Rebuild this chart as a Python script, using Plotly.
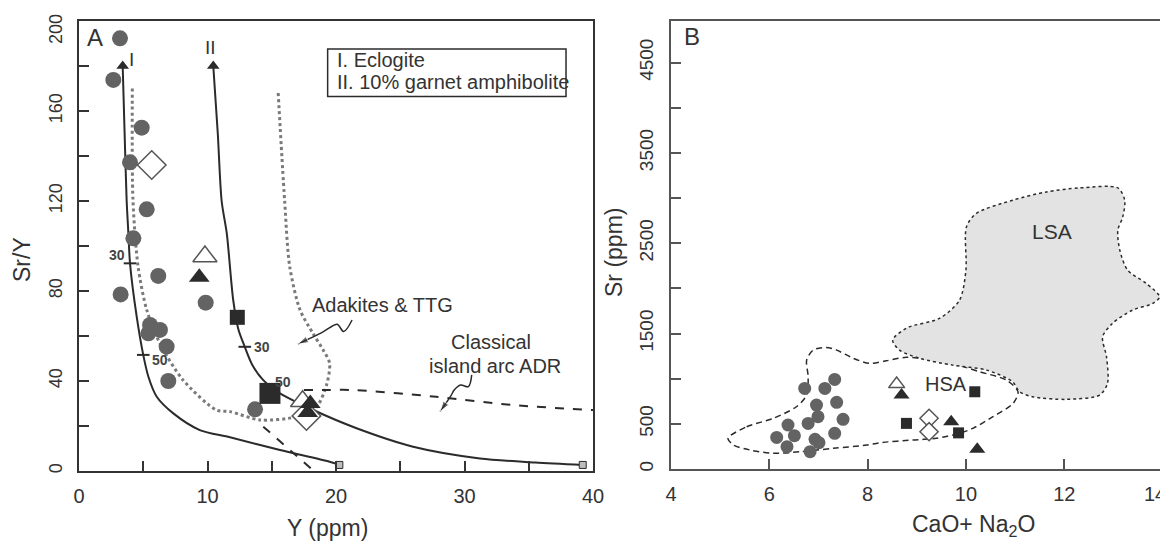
import plotly.graph_objects as go

# ---------------- Panel A data ----------------
curve1_x = [3.4, 3.55, 3.71, 3.85, 3.97, 4.49, 5.0, 5.4, 6.05, 7.34, 9.4, 11.75, 15.64, 19.5, 20.26]
curve1_y = [180, 150, 120, 105, 92.3, 68.6, 51.6, 41.9, 33, 25.6, 18.2, 15, 9.3, 4.1, 2.7]
curve2_x = [10.45, 10.8, 11.1, 11.5, 12.0, 12.4, 12.9, 13.5, 14.34, 15.64, 18.23, 21.6, 26.0, 31.2, 35.5, 39.2]
curve2_y = [180, 150, 120, 105.6, 76, 63, 55.2, 47, 40.4, 34.5, 27.1, 19, 10.8, 5.6, 3.8, 2.7]
adakite_x = [4.15, 4.2, 4.6, 5.27, 6.3, 8.1, 10.7, 11.75, 14.1, 16.9, 18.5, 19.3, 19.5, 19.0, 18.2, 17.2, 16.4, 16.0, 15.5]
adakite_y = [170, 120.4, 90.8, 71.6, 56.7, 40.4, 27.1, 26.4, 22.7, 24.1, 28.6, 39, 48, 53.8, 61.2, 71.6, 90.8, 120.4, 168]
adr_upper_x = [17.5, 19.3, 21.3, 27.8, 33.8, 40]
adr_upper_y = [36, 36, 36, 33, 29.3, 27.1]
adr_lower_x = [14.34, 18.2]
adr_lower_y = [19.7, 0.4]

circles_a_x = [3.19, 2.67, 4.88, 3.97, 5.27, 4.23, 6.17, 3.24, 9.86, 5.53, 5.4, 6.3, 6.82, 6.95, 13.7]
circles_a_y = [192.3, 173.8, 152.6, 137.2, 116.3, 103.4, 86.7, 78.5, 74.8, 64.9, 61.2, 62.7, 55.3, 40, 27.4]
open_diamond_a_x = [5.66, 17.7]
open_diamond_a_y = [136, 24.5]
open_tri_a_x = [9.8, 17.4]
open_tri_a_y = [95.3, 31]
filled_tri_a_x = [9.36, 18.0, 17.8]
filled_tri_a_y = [86.1, 30, 26]
square_small_a_x = [12.32]
square_small_a_y = [68.3]
square_big_a_x = [14.86]
square_big_a_y = [34.5]

melt_ticks_x = [3.97, 5.0, 12.9]
melt_ticks_y = [92.3, 51.6, 55.2]
melt_labels = ["30", "50", "30", "50"]
melt_label_x = [2.96, 6.3, 14.24, 15.9]
melt_label_y = [96, 49.3, 55.1, 39.6]

squiggle1_x = [21.25, 20.6, 20.1, 19.6, 18.99, 17.04]
squiggle1_y = [67.1, 62.0, 65.2, 64.0, 61.8, 56.4]
squiggle2_x = [30.56, 30.3, 29.7, 29.2, 28.95, 28.1]
squiggle2_y = [42.7, 37.5, 38.2, 36.0, 33.5, 26.4]

# ---------------- Panel B data ----------------
circles_b_x = [6.72, 7.13, 7.33, 6.96, 7.37, 6.99, 6.79, 7.5, 6.38, 6.51, 6.15, 6.36, 6.93, 7.01, 7.33, 6.83]
circles_b_y = [892, 892, 992, 708, 738, 579, 505, 550, 487, 369, 350, 247, 328, 291, 395, 192]
open_tri_b_x = [8.59]
open_tri_b_y = [940]
filled_tri_b_x = [8.69, 9.7, 10.23]
filled_tri_b_y = [819, 523, 218]
square_b_x = [10.18, 8.79, 9.85]
square_b_y = [855, 505, 400]
open_diamond_b_x = [9.25, 9.25]
open_diamond_b_y = [561, 413]

lsa_x = [10.01, 10.21, 10.95, 11.64, 12.31, 13.09, 13.23, 13.19, 13.09, 13.13, 13.29, 13.67, 13.94, 13.80,
         13.39, 12.98, 12.78, 12.86, 12.88, 12.72, 12.04, 11.36, 11.09, 10.95, 10.42, 9.73, 9.06, 8.65,
         8.51, 8.79, 9.47, 9.87, 10.0, 10.01]
lsa_y = [2680, 2829, 2976, 3068, 3112, 3112, 2976, 2791, 2644, 2423, 2201, 2054, 1906, 1833,
         1759, 1612, 1463, 1242, 948, 819, 771, 800, 855, 966, 1095, 1150, 1225, 1316,
         1427, 1560, 1670, 1869, 2201, 2680]
hsa_x = [5.16, 5.54, 6.08, 6.55, 6.76, 6.79, 6.76, 6.89, 7.16, 7.37, 7.71, 8.04, 8.38, 8.79, 9.60,
         10.28, 10.82, 11.06, 10.96, 10.55, 10.14, 9.87, 9.40, 8.92, 8.25, 7.98, 7.30, 6.62, 6.08,
         5.61, 5.27, 5.16]
hsa_y = [340, 468, 561, 689, 819, 1021, 1206, 1316, 1346, 1316, 1225, 1169, 1198, 1236, 1187,
         1076, 985, 855, 727, 579, 450, 395, 340, 321, 291, 265, 229, 191, 174,
         210, 265, 340]

# ---------------- axis ticks ----------------
ya_major = [0, 40, 80, 120, 160]
ya_minor = [20, 60, 100, 140, 180]
ya_top_label = "200"
xa_major = [0, 10, 20, 30, 40]
xa_minor = [5, 15, 25, 35]
yb_major = [0, 500, 1500, 2500, 3500, 4500]
yb_minor = [1000, 2000, 3000, 4000]
xb_major = [4, 6, 8, 10, 12]
xb_edge = [14]
xb_edge_label = "14"

FONT = "Liberation Sans, Arial, sans-serif"
DARK = "#2b2b2b"
GRAY = "#636363"

fig = go.Figure()

def line(x, y, xa, ya, color=DARK, width=2, dash="solid", shape="spline"):
    fig.add_trace(go.Scatter(x=x, y=y, xaxis=xa, yaxis=ya, mode="lines",
                             line=dict(color=color, width=width, dash=dash, shape=shape, smoothing=0.8),
                             showlegend=False, hoverinfo="skip"))

def arrow_line(x, y, width=1.5, head=11):
    n = len(x)
    fig.add_trace(go.Scatter(x=x, y=y, xaxis="x", yaxis="y", mode="lines+markers",
                             line=dict(color=DARK, width=width, shape="spline", smoothing=1.0),
                             marker=dict(symbol=["circle"] * (n - 1) + ["arrow"],
                                         size=[0] * (n - 1) + [head], color=DARK,
                                         angleref="previous"),
                             showlegend=False, hoverinfo="skip"))

def pts(x, y, xa, ya, symbol, size, fill, lcolor, lwidth=0):
    fig.add_trace(go.Scatter(x=x, y=y, xaxis=xa, yaxis=ya, mode="markers",
                             marker=dict(symbol=symbol, size=size, color=fill,
                                         line=dict(color=lcolor, width=lwidth)),
                             showlegend=False))

# Panel A lines
line(adakite_x, adakite_y, "x", "y", color="#7a7a7a", width=3, dash="dot")
line(curve1_x, curve1_y, "x", "y")
line(curve2_x, curve2_y, "x", "y")
line(adr_upper_x, adr_upper_y, "x", "y", width=2, dash="dash")
line(adr_lower_x, adr_lower_y, "x", "y", width=2, dash="dash", shape="linear")
arrow_line(squiggle1_x, squiggle1_y)
arrow_line(squiggle2_x, squiggle2_y)
pts([curve1_x[0], curve2_x[0]], [curve1_y[0], curve2_y[0]], "x", "y", "triangle-up", 11, DARK, DARK)
pts([curve1_x[-1], curve2_x[-1]], [curve1_y[-1], curve2_y[-1]], "x", "y", "square", 7, "#bdbdbd", DARK, 1)
pts(melt_ticks_x, melt_ticks_y, "x", "y", "line-ew", 9, DARK, DARK, 2)

# Panel A points
pts(circles_a_x, circles_a_y, "x", "y", "circle", 16, GRAY, GRAY)
pts(open_tri_a_x, open_tri_a_y, "x", "y", "triangle-up", 21, "white", "#555", 1.5)
pts(open_diamond_a_x, open_diamond_a_y, "x", "y", "diamond", 22, "white", "#555", 1.5)
pts(filled_tri_a_x, filled_tri_a_y, "x", "y", "triangle-up", 18, DARK, DARK)
pts(square_small_a_x, square_small_a_y, "x", "y", "square", 15, DARK, DARK)
pts(square_big_a_x, square_big_a_y, "x", "y", "square", 21, DARK, DARK)

# Panel B fields
fig.add_trace(go.Scatter(x=hsa_x, y=hsa_y, xaxis="x2", yaxis="y2", mode="lines",
                         line=dict(color=DARK, width=1.5, dash="6px,4px", shape="spline", smoothing=0.8),
                         showlegend=False, hoverinfo="skip"))
fig.add_trace(go.Scatter(x=lsa_x, y=lsa_y, xaxis="x2", yaxis="y2", mode="lines", fill="toself",
                         fillcolor="#e3e3e3",
                         line=dict(color=DARK, width=1.5, dash="dot", shape="spline", smoothing=0.8),
                         showlegend=False, hoverinfo="skip"))

# Panel B points
pts(circles_b_x, circles_b_y, "x2", "y2", "circle", 13, GRAY, GRAY)
pts(open_tri_b_x, open_tri_b_y, "x2", "y2", "triangle-up", 14, "white", "#555", 1.5)
pts(open_diamond_b_x, open_diamond_b_y, "x2", "y2", "diamond", 14, "white", "#555", 1.5)
pts(filled_tri_b_x, filled_tri_b_y, "x2", "y2", "triangle-up", 14, DARK, DARK)
pts(square_b_x, square_b_y, "x2", "y2", "square", 11, DARK, DARK)

def axis(color="#333"):
    return dict(showgrid=False, zeroline=False, ticks="inside", ticklen=10, tickwidth=2,
                tickcolor=color, linecolor=color, linewidth=2, showline=True,
                automargin=False, fixedrange=True, ticklabeloverflow="allow")

def minor(vals, color="#333"):
    return dict(tickvals=vals, ticks="inside", ticklen=10, tickwidth=2, tickcolor=color, showgrid=False)

xtickfont = dict(family=FONT, size=20, color="#333")
ytickfont = dict(family=FONT, size=18, color="#333")

# the page body has an 8px margin: work in reference pixel coordinates and offset
OFF = 8
W, H = 1168 - OFF, 542 - OFF
def px(x):
    return (x - OFF) / W
def py(y):
    return 1 - (y - OFF) / H

fig.update_layout(
    width=W, height=H, margin=dict(l=0, r=0, t=0, b=0),
    paper_bgcolor="white", plot_bgcolor="white",
    font=dict(family=FONT, color="#333"),
    xaxis=dict(domain=[px(79), px(593)], range=[0, 40], anchor="y", mirror=True,
               tickvals=xa_major, minor=minor(xa_minor), ticklabelstandoff=6,
               tickfont=xtickfont, **axis()),
    yaxis=dict(domain=[py(471), py(21)], range=[0, 200], anchor="x", mirror=True,
               tickvals=ya_major, minor=minor(ya_minor), tickangle=-90, ticklabelstandoff=8,
               tickfont=ytickfont, **axis()),
    xaxis2=dict(domain=[px(671), px(1166)], range=[4, 14.07], anchor="y2", mirror=True,
                tickvals=xb_major, minor=minor(xb_edge, "#555"), ticklabelstandoff=6,
                tickfont=xtickfont, **axis("#555")),
    yaxis2=dict(domain=[py(469), py(21)], range=[0, 4960], anchor="x2", mirror=False,
                tickvals=yb_major, minor=minor(yb_minor, "#555"), tickangle=-90, ticklabelstandoff=8,
                tickfont=dict(family=FONT, size=19, color="#333"), **axis("#555")),
)

ann = []
def text(t, x, y, size, xref="x", yref="y", xanchor="center", angle=0, bold=False, color="#333"):
    ann.append(dict(text=f"<b>{t}</b>" if bold else t, x=x, y=y, xref=xref, yref=yref,
                    showarrow=False, xanchor=xanchor, yanchor="middle", textangle=angle,
                    font=dict(family=FONT, size=size, color=color)))

# edge tick labels kept inside the page, as in the reference
text(ya_top_label, px(56), py(29), 18, "paper", "paper", angle=-90)
text(xb_edge_label, 1.0, py(494), 20, "paper", "paper", xanchor="right")

# axis titles
text("Sr/Y", px(22), py(260), 23, "paper", "paper", angle=-90)
text("Y (ppm)", px(327), py(528), 23, "paper", "paper")
text("Sr (ppm)", px(614), py(253), 23, "paper", "paper", angle=-90)
text("CaO+ Na<sub>2</sub>O", px(973), py(525), 23, "paper", "paper")

# panel labels and annotations
text("A", 0.45, 192.5, 24, xanchor="left")
text("B", 4.22, 4790, 24, "x2", "y2", xanchor="left")
text("I", 4.12, 182.7, 19)
text("II", 10.2, 188, 19)
for t, x, y in zip(melt_labels, melt_label_x, melt_label_y):
    text(t, x, y, 14, bold=True, color="#444")
text("I. Eclogite", 19.9, 182.7, 20, xanchor="left")
text("II. 10% garnet amphibolite", 19.9, 172.9, 20, xanchor="left")
text("Adakites &amp; TTG", 23.6, 74, 20)
text("Classical", 32.1, 57.3, 20)
text("island arc ADR", 32.4, 46.7, 20)
text("HSA", 9.6, 940, 20, "x2", "y2")
text("LSA", 11.75, 2630, 21, "x2", "y2")
fig.update_layout(annotations=ann)

# legend box in panel A
fig.add_shape(type="rect", xref="x", yref="y", x0=19.35, x1=37.9, y0=166.4, y1=187.6,
              line=dict(color=DARK, width=1.5), fillcolor="rgba(0,0,0,0)")

fig.write_html("out.html")
